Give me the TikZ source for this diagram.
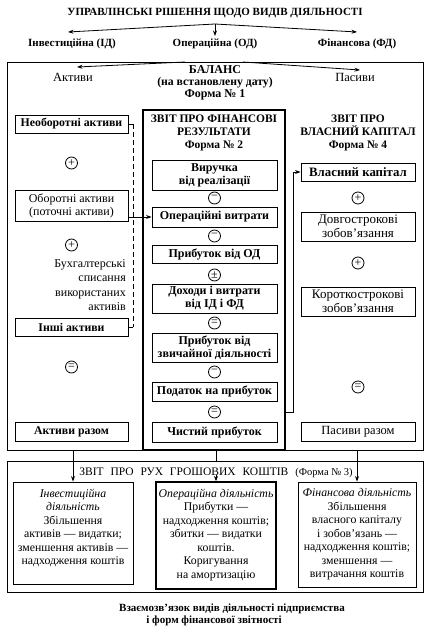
\documentclass[tikz,border=0pt]{standalone}
\usepackage{fontspec}
\setmainfont{Liberation Serif}
\usetikzlibrary{arrows.meta}
\newcommand{\fs}[2]{\fontsize{#1}{#2}\selectfont}
\begin{document}
\begin{tikzpicture}[x=1pt,y=-1pt,
  every node/.style={font=\fs{11}{13}},
  bf/.style={font=\fs{11}{13}\bfseries},
  bx/.style={draw, line width=0.85pt, align=center, inner sep=1pt},
  lbb/.style={bx, font=\fs{11.8}{12.5}\bfseries},
  lbr/.style={bx, font=\fs{12}{13}},
  mbb/.style={bx, font=\fs{12}{13}\bfseries},
  rbb/.style={bx, font=\fs{12.8}{13}\bfseries},
  rbr/.style={bx, font=\fs{13}{14}},
  sg/.style={draw, circle, line width=0.8pt, minimum size=12pt, inner sep=0pt, font=\fs{12}{12}},
  arr/.style={-{Stealth[length=5.5pt,width=4pt]}, line width=0.8pt},
  ln/.style={line width=0.8pt},
  cft/.style={align=center, inner sep=0pt, anchor=north, font=\fs{11.8}{13.5}},
]
\useasboundingbox (0,0) rectangle (431,634);
\fill[white] (0,0) rectangle (431,634);

% top
\node[bf] (title) at (215,13) {УПРАВЛІНСЬКІ РІШЕННЯ ЩОДО ВИДІВ ДІЯЛЬНОСТІ};
\coordinate (split) at (215,24);
\coordinate (tid) at (68,32);
\coordinate (tod) at (215,36);
\coordinate (tfd) at (357,32);
\node[bf] (id) at (72,44) {Інвестиційна (ІД)};
\node[bf] (od) at (215,44) {Операційна (ОД)};
\node[bf] (fd) at (357,44) {Фінансова (ФД)};
\draw[arr] (split) -- (tid);
\draw[arr] (split) -- (tod);
\draw[arr] (split) -- (tfd);

% balance frame
\node[draw, line width=0.85pt, minimum width=416pt, minimum height=388pt, inner sep=0pt] (bal) at (215,256) {};
\node[font=\fs{12}{13}\bfseries] (balt) at (215,70) {БАЛАНС};
\node[font=\fs{11.7}{13}\bfseries] (bald) at (215,82.5) {(на встановлену дату)};
\node[font=\fs{12}{13}\bfseries] (balf) at (215,94.5) {Форма № 1};
\node[font=\fs{12.5}{13}] (akt) at (73,77) {Активи};
\node[font=\fs{12.5}{13}] (pas) at (355,77) {Пасиви};
\coordinate (sa) at (185,62);
\coordinate (sp) at (243,62);
\coordinate (ta) at (77,67);
\coordinate (tp) at (360,70);
\draw[arr] (sa) -- (ta);
\draw[arr] (sp) -- (tp);

% left column
\node[lbb, minimum width=113pt, minimum height=18pt] (neob) at (71.5,124) {Необоротні активи};
\node[sg] (l1) at (71.5,163) {+};
\node[lbr, minimum width=113pt, minimum height=31pt] (obor) at (71.5,205.5) {Оборотні активи\\(поточні активи)};
\node[sg] (l2) at (71.5,245) {+};
\node[align=right, anchor=north east, inner sep=0pt, font=\fs{12}{14.5}] (buh) at (126,259) {Бухгалтерські\\списання\\використаних\\активів};
\node[lbb, minimum width=113pt, minimum height=18pt] (inshi) at (71.5,327) {Інші активи};
\node[sg] (l3) at (71.5,367) {=};
\node[lbb, minimum width=113pt, minimum height=19pt] (aktr) at (71.5,431.5) {Активи разом};

% dashed link
\coordinate (dtop) at (133,124);
\draw[ln] (neob.east) -- (dtop);
\draw[ln] (inshi.east) -- (inshi.east -| dtop);
\draw[ln, dash pattern=on 5pt off 3pt] (dtop) -- (inshi.east -| dtop);

% form 2
\node[draw, line width=1.3pt, minimum width=142pt, minimum height=340pt, inner sep=0pt] (f2) at (214,280) {};
\node[align=center, anchor=north, inner sep=0pt, font=\fs{11.5}{13.2}\bfseries] (f2t) at (214,114.5) {ЗВІТ ПРО ФІНАНСОВІ\\РЕЗУЛЬТАТИ\\Форма № 2};
\node[mbb, minimum width=125pt, minimum height=30pt] (vyr) at (214.5,175) {Виручка\\від реалізації};
\node[sg] (m1) at (214.5,198) {\raisebox{0.3pt}{−}};
\node[mbb, minimum width=125pt, minimum height=20pt] (opv) at (214.5,217) {Операційні витрати};
\node[sg] (m2) at (214.5,236) {\raisebox{0.3pt}{−}};
\node[mbb, minimum width=125pt, minimum height=18pt] (pod) at (214.5,254) {Прибуток від ОД};
\node[sg] (m3) at (214.5,275) {±};
\node[mbb, minimum width=125pt, minimum height=29pt] (doh) at (214.5,298.5) {Доходи і витрати\\від ІД і ФД};
\node[sg] (m4) at (214.5,323) {=};
\node[mbb, minimum width=125pt, minimum height=29pt] (pzd) at (214.5,347.5) {Прибуток від\\звичайної діяльності};
\node[sg] (m5) at (214.5,372) {\raisebox{0.3pt}{−}};
\node[mbb, minimum width=125pt, minimum height=19pt] (pnp) at (214.5,391.5) {Податок на прибуток};
\node[sg] (m6) at (214.5,412) {=};
\node[mbb, minimum width=125pt, minimum height=20pt] (chp) at (214.5,432) {Чистий прибуток};

\draw[arr] (obor.east |- opv.west) -- (opv.west);

% form 4
\node[align=center, anchor=north, inner sep=0pt, font=\fs{11.5}{13.2}\bfseries] (f4t) at (358,114.5) {ЗВІТ ПРО\\ВЛАСНИЙ КАПІТАЛ\\Форма № 4};
\node[rbb, minimum width=114pt, minimum height=18pt] (vk) at (358,172) {Власний капітал};
\node[sg] (r1) at (358,198) {+};
\node[rbr, minimum width=114pt, minimum height=29pt] (dz) at (358,226.5) {Довгострокові\\зобов’язання};
\node[sg] (r2) at (358,263) {+};
\node[rbr, minimum width=114pt, minimum height=29pt] (kz) at (358,301.5) {Короткострокові\\зобов’язання};
\node[sg] (r3) at (358,387) {=};
\node[bx, font=\fs{12.5}{13}, minimum width=114pt, minimum height=19pt] (prz) at (358,431.5) {Пасиви разом};

\draw[arr] (f2.east |- m6) -- ++(7.5,0) |- (vk.west);

% cash flow
\node[draw, line width=0.85pt, minimum width=416pt, minimum height=131pt, inner sep=0pt] (cf) at (215,526.5) {};
\node[inner sep=0pt, font=\fs{11.5}{13}] (cft) at (216,473) {ЗВІТ\hspace{0.6em}ПРО\hspace{0.6em}РУХ\hspace{0.6em}ГРОШОВИХ\hspace{0.6em}КОШТІВ\hspace{0.6em}{\fs{10.5}{12}(Форма № 3)}};
\node[draw, line width=0.85pt, minimum width=120pt, minimum height=102pt, inner sep=0pt] (lb) at (73,533) {};
\node[draw, line width=1.3pt, minimum width=120pt, minimum height=107pt, inner sep=0pt] (mb) at (216,535.5) {};
\node[draw, line width=0.85pt, minimum width=118pt, minimum height=105pt, inner sep=0pt] (rb) at (357,534.5) {};
\node[cft] (lbt) at (73,488.5) {\textit{Інвестиційна}\\\textit{діяльність}\\Збільшення\\активів — видатки;\\зменшення активів —\\надходження коштів};
\node[cft] (mbt) at (216,488.5) {\textit{Операційна діяльність}\\Прибутки —\\надходження коштів;\\збитки — видатки\\коштів.\\Коригування\\на амортизацію};
\node[cft] (rbt) at (357,488.5) {\textit{Фінансова діяльність}\\Збільшення\\власного капіталу\\і зобов’язань —\\надходження коштів;\\зменшення —\\витрачання коштів};

\draw[arr] (lb.north |- bal.south) -- (lb.north);
\draw[arr] (rb.north |- bal.south) -- (rb.north);
\draw[ln] (mb.north |- bal.south) -- (mb.north |- cf.north);
\coordinate (marr) at (216,475);
\draw[arr] (marr) -- (mb.north);

% caption
\node[bf] (cap1) at (232,609) {Взаємозв’язок видів діяльності підприємства};
\node[bf] (cap2) at (214,621) {і форм фінансової звітності};
\end{tikzpicture}
\end{document}
